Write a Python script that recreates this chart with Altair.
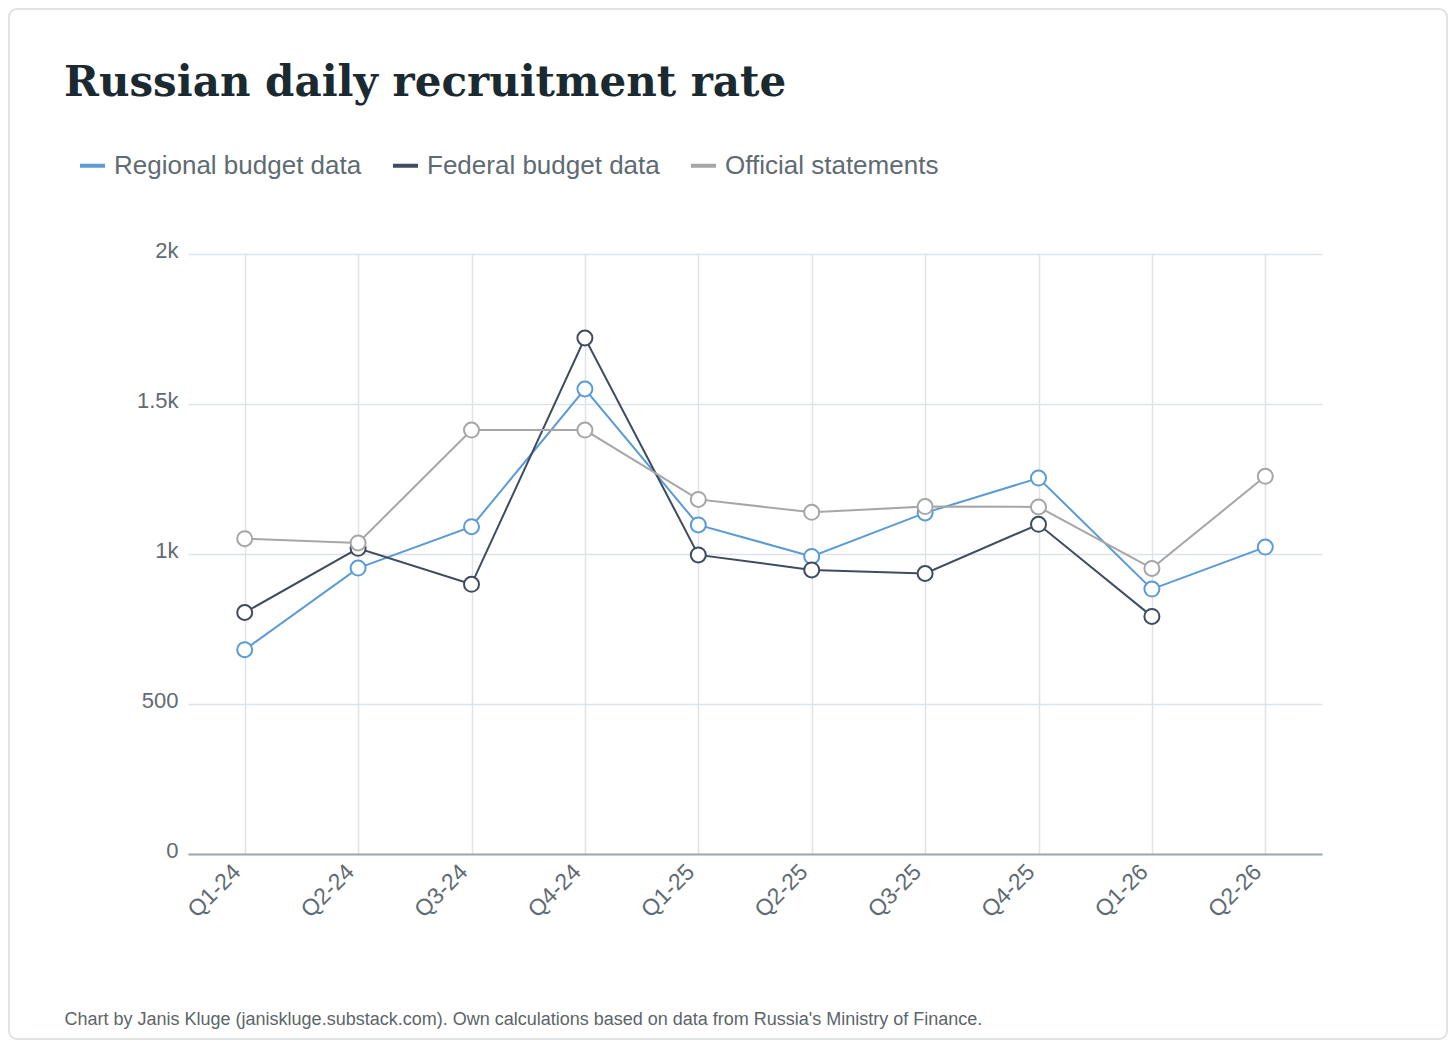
import altair as alt
import pandas as pd

quarters = ["Q1-24", "Q2-24", "Q3-24", "Q4-24", "Q1-25", "Q2-25", "Q3-25", "Q4-25", "Q1-26", "Q2-26"]
regional = [681, 953, 1091, 1550, 1097, 992, 1137, 1253, 883, 1023]
federal = [805, 1019, 899, 1720, 997, 947, 935, 1099, 792, None]
official = [1051, 1037, 1413, 1413, 1182, 1139, 1158, 1157, 952, 1259]

series_names = ["Regional budget data", "Federal budget data", "Official statements"]
series_colors = ["#5b9bd5", "#3f4b5e", "#a6a6a6"]
y_ticks = [0, 500, 1000, 1500, 2000]

title_text = "Russian daily recruitment rate"
footer_text = ("Chart by Janis Kluge (janiskluge.substack.com). Own calculations based on "
               "data from Russia's Ministry of Finance.")

rows = []
for name, vals in zip(series_names, [regional, federal, official]):
    for i, (q, v) in enumerate(zip(quarters, vals)):
        if v is not None:
            rows.append({"quarter": q, "series": name, "value": v, "order": i})
df = pd.DataFrame(rows)

label_color = "#5f6b72"
grid_color = "#dde3e8"

frame = alt.Chart(pd.DataFrame({"k": [0]})).mark_rect(
    fill="transparent", stroke="#dfe3e4", strokeWidth=2, cornerRadius=8
).encode(
    x=alt.value(-179), x2=alt.value(1259), y=alt.value(-245), y2=alt.value(785)
)

lines = alt.Chart(df).mark_line(
    strokeWidth=2,
    point=alt.OverlayMarkDef(filled=False, fill="white", fillOpacity=1, size=225, strokeWidth=2, opacity=1),
).encode(
    x=alt.X("quarter:N", sort=quarters,
            axis=alt.Axis(
                title=footer_text, titleX=-124, titleY=170, titleAlign="left",
                titleAnchor="start", titleBaseline="alphabetic", titleAngle=0,
                titleFont="Liberation Sans", titleFontSize=18, titleFontWeight="normal",
                titleColor="#5c6569",
                labelAngle=-45, labelAlign="right", labelBaseline="middle",
                labelFont="Liberation Sans", labelFontSize=23,
                labelColor=label_color, labelPadding=14, labelOffset=-8,
                ticks=False, domainColor="#a0a8ab", domainWidth=2,
                grid=True, gridColor=grid_color, gridWidth=1.5,
            )),
    y=alt.Y("value:Q", scale=alt.Scale(domain=[0, 2000], nice=False),
            axis=alt.Axis(
                title=None, values=y_ticks,
                labelExpr="datum.value >= 1000 ? (datum.value / 1000) + 'k' : datum.label",
                labelFont="Liberation Sans", labelFontSize=22, labelColor=label_color,
                labelPadding=10, labelBaseline="middle", labelOffset=-4,
                ticks=False, domain=False,
                grid=True, gridColor=grid_color, gridWidth=1.5,
            )),
    color=alt.Color("series:N",
                    scale=alt.Scale(domain=series_names, range=series_colors),
                    legend=alt.Legend(
                        title=None, orient="none", legendX=-110, legendY=-103,
                        direction="horizontal", symbolType="stroke", symbolSize=625,
                        symbolStrokeWidth=4, labelFont="Liberation Sans", labelFontSize=26,
                        labelColor=label_color, labelOffset=7, columnPadding=23,
                        labelLimit=500, padding=0,
                    )),
    order=alt.Order("order:Q"),
)

chart = alt.layer(frame, lines).properties(
    width=1134,
    height=600,
    autosize=alt.AutoSizeParams(type="none"),
    padding={"left": 180, "top": 246, "right": 126, "bottom": 186},
    background="white",
    title=alt.TitleParams(
        text=title_text, anchor="start", frame="group", dx=-124, offset=-130,
        baseline="alphabetic", font="DejaVu Serif", fontSize=42, fontWeight="bold",
        color="#1b2a30",
    ),
).configure_view(stroke=None)

chart.save("out.html", embed_options={"renderer": "svg", "actions": False})
